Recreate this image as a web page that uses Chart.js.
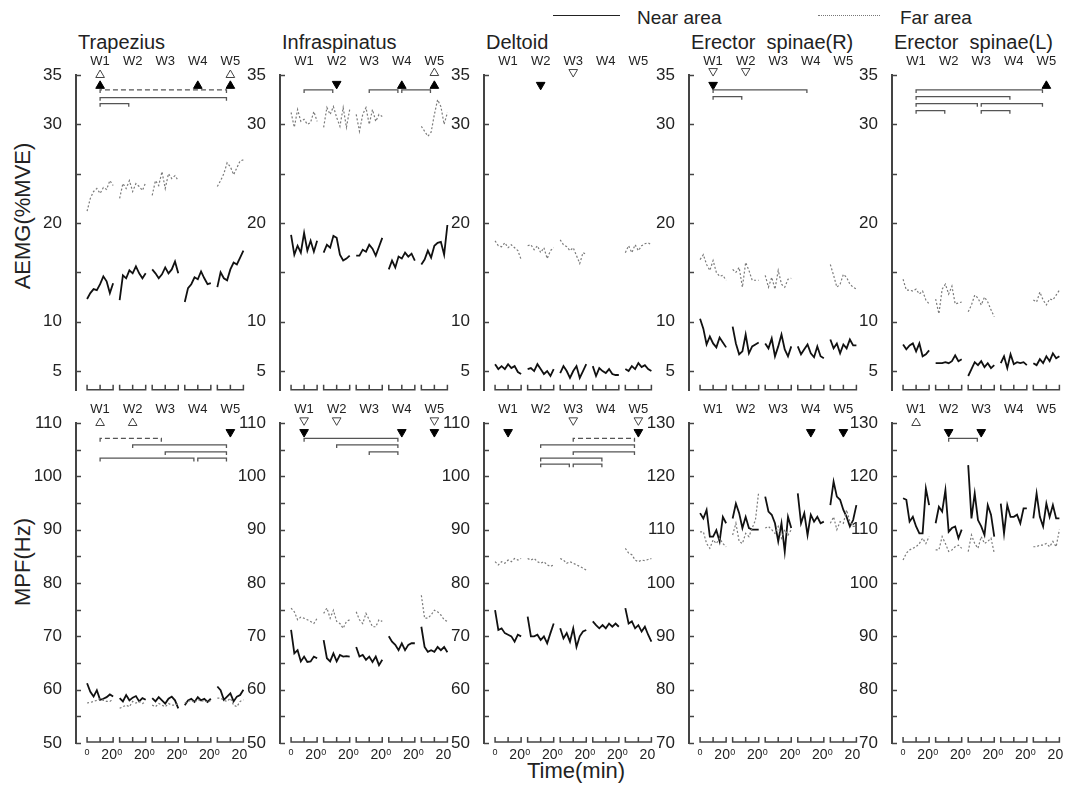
<!DOCTYPE html>
<html lang="en">
<head>
  <meta charset="UTF-8" />
  <title>AEMG and MPF by week</title>
  <script src="https://cdn.jsdelivr.net/npm/chart.js"></script>
  <style>
    body { margin: 0; background: #fff; font-family: "Liberation Sans", Arial, sans-serif; color: #222; }
    #fig { position: relative; width: 1067px; height: 785px; overflow: hidden; }
    .txt { position: absolute; white-space: pre; line-height: 1; }
    .panel { position: absolute; }
    .ytitle { position: absolute; font-size: 22px; transform: translate(-50%, -50%) rotate(-90deg); white-space: nowrap; }
    .leg-line { position: absolute; height: 0; }
  </style>
</head>
<body>
<div id="fig">
  <div class="leg-line" style="left:553px; top:15px; width:67px; border-top:1.5px solid #222;"></div>
  <div class="txt" style="left:637px; top:8px; font-size:19px;">Near area</div>
  <div class="leg-line" style="left:818px; top:15px; width:62px; border-top:1px dotted #777;"></div>
  <div class="txt" style="left:900px; top:8px; font-size:19px;">Far area</div>

  <div class="ytitle" style="left:23px; top:216px;">AEMG(%MVE)</div>
  <div class="ytitle" style="left:23px; top:562px;">MPF(Hz)</div>
  <div class="txt" style="left:576px; top:760px; font-size:22px; transform:translateX(-50%);">Time(min)</div>
</div>

<script>
// time points inside each 20-min session, and the weeks
const minutes = [0, 2.5, 5, 7.5, 10, 12.5, 15, 17.5, 20];
const weekLabels = ['W1', 'W2', 'W3', 'W4', 'W5'];
const muscles = ['Trapezius', 'Infraspinatus', 'Deltoid', 'Erector  spinae(R)', 'Erector  spinae(L)'];

// y axis ticks
const aemgTicks = [5, 10, 15, 20, 25, 30, 35];
const aemgLabeled = [5, 10, 20, 30, 35];
const mpfTicksA = [50, 55, 60, 65, 70, 75, 80, 85, 90, 95, 100, 105, 110];
const mpfTicksB = [70, 75, 80, 85, 90, 95, 100, 105, 110, 115, 120, 125, 130];

// ---- AEMG (%MVE), one row per week ----
const aemgTrapNear = [
  [12.3, 12.9, 13.3, 13.2, 13.8, 14.6, 14.1, 12.9, 13.9],
  [12.2, 14.7, 14.4, 15.2, 14.9, 15.6, 14.9, 14.4, 14.9],
  [15.3, 14.9, 14.4, 14.8, 15.5, 14.9, 15.3, 16.1, 14.9],
  [12.0, 13.4, 13.8, 14.5, 14.3, 15.1, 14.4, 13.8, 13.9],
  [13.5, 15.0, 14.4, 14.2, 15.3, 16.0, 15.8, 16.5, 17.2]
];
const aemgTrapFar = [
  [21.2, 22.5, 23.2, 23.5, 23.0, 23.6, 23.4, 24.3, 23.8],
  [22.5, 24.0, 23.5, 24.3, 23.2, 24.0, 23.7, 23.3, 24.1],
  [22.8, 24.3, 23.8, 25.2, 23.5, 25.0, 24.5, 24.8, 24.3],
  null,
  [23.7, 24.3, 25.0, 26.1, 25.7, 24.9, 25.6, 26.3, 26.4]
];
const aemgInfraNear = [
  [18.8, 16.8, 17.7, 17.0, 19.0, 17.2, 18.2, 17.1, 18.2],
  [17.0, 17.8, 17.5, 18.7, 18.5, 16.8, 16.2, 16.4, 16.7],
  [16.7, 16.7, 17.3, 17.1, 17.8, 17.4, 16.7, 17.6, 18.5],
  [15.3, 16.2, 15.5, 16.6, 16.4, 17.0, 16.6, 16.9, 16.2],
  [15.8, 16.3, 17.2, 16.5, 17.7, 18.0, 18.1, 16.8, 19.8]
];
const aemgInfraFar = [
  [31.2, 29.7, 31.5, 30.3, 30.5, 30.0, 30.2, 31.3, 30.3],
  [29.7, 31.7, 31.0, 31.8, 30.7, 29.8, 31.7, 29.7, 31.5],
  [31.0, 29.3, 31.0, 31.7, 30.0, 31.5, 30.3, 31.0, 30.8],
  null,
  [29.8, 29.3, 28.8, 29.2, 31.0, 32.5, 31.8, 30.0, 31.2]
];
const aemgDeltNear = [
  [5.7, 5.2, 5.5, 5.2, 5.7, 5.3, 5.5, 4.9, 4.7],
  [5.2, 5.3, 5.0, 5.7, 5.2, 4.7, 5.0, 4.5, 5.2],
  [4.8, 5.5, 5.0, 4.3, 5.0, 5.5, 4.3, 5.0, 5.7],
  [5.5, 4.5, 5.3, 5.0, 4.8, 5.2, 4.7, 4.6, 4.6],
  [5.2, 5.0, 5.5, 5.2, 5.8, 5.4, 5.6, 5.2, 5.0]
];
const aemgDeltFar = [
  [18.2, 17.7, 17.6, 18.0, 17.5, 17.8, 17.5, 17.2, 16.3],
  [17.7, 17.8, 17.3, 17.7, 17.0, 17.5, 16.4, 17.2, 17.5],
  [18.3, 17.8, 17.6, 17.2, 17.5, 16.7, 15.9, 17.0, 16.8],
  null,
  [17.0, 17.7, 17.0, 17.8, 17.2, 17.7, 17.9, 18.0, 17.8]
];
const aemgEsrNear = [
  [10.3, 9.3, 7.7, 8.5, 7.8, 7.4, 8.4, 7.9, 7.4],
  [9.5, 7.8, 6.7, 7.0, 8.7, 6.8, 7.5, 7.7, 7.9],
  [7.8, 7.3, 8.3, 6.5, 7.5, 8.7, 7.2, 6.5, 7.5],
  [7.5, 6.7, 7.2, 7.7, 6.8, 6.4, 7.5, 6.5, 6.3],
  [8.2, 7.3, 7.8, 6.8, 7.7, 7.3, 8.2, 7.6, 7.6]
];
const aemgEsrFar = [
  [16.3, 16.8, 15.8, 15.2, 16.2, 15.0, 14.6, 14.7, 14.2],
  [15.3, 15.0, 15.5, 13.5, 16.0, 15.2, 14.2, 14.2, 14.2],
  [14.7, 13.5, 14.5, 13.3, 15.2, 13.8, 13.5, 14.3, 14.4],
  null,
  [15.8, 14.7, 13.5, 13.8, 14.8, 14.5, 13.8, 13.5, 13.3]
];
const aemgEslNear = [
  [7.7, 7.2, 7.6, 7.8, 7.0, 7.8, 6.5, 6.7, 7.1],
  [5.8, 5.8, 5.8, 5.9, 5.8, 6.0, 6.6, 6.0, 6.2],
  [4.5, 5.2, 5.9, 5.6, 6.0, 5.4, 5.8, 5.3, 5.6],
  [5.8, 6.5, 5.3, 6.7, 5.7, 5.9, 5.8, 5.9, 5.6],
  [5.8, 5.6, 6.2, 5.8, 6.5, 6.0, 6.8, 6.3, 6.5]
];
const aemgEslFar = [
  [14.3, 13.2, 13.2, 13.1, 13.3, 12.8, 13.1, 12.2, 11.8],
  [12.3, 10.8, 13.3, 13.8, 12.8, 13.6, 11.8, 11.9, 12.0],
  [11.0, 11.7, 12.7, 12.4, 11.7, 12.5, 12.0, 11.2, 10.5],
  null,
  [12.2, 12.0, 13.0, 12.2, 11.7, 12.3, 12.2, 12.7, 13.2]
];

// ---- MPF (Hz) ----
const mpfTrapNear = [
  [61.2, 59.6, 58.7, 59.9, 58.1, 58.3, 58.6, 59.1, 58.7],
  [58.4, 57.8, 59.0, 58.0, 58.5, 58.8, 57.8, 58.4, 58.1],
  [58.4, 57.8, 58.6, 58.0, 57.4, 58.3, 58.7, 58.0, 56.5],
  [57.1, 58.0, 58.3, 57.7, 58.6, 58.0, 58.3, 57.7, 58.3],
  [60.6, 59.9, 58.1, 58.7, 59.3, 57.8, 58.7, 59.0, 60.0]
];
const mpfTrapFar = [
  [57.5, 57.6, 57.8, 58.0, 58.3, 58.0, 57.8, 57.8, 58.2],
  [56.5, 56.8, 57.1, 56.8, 57.8, 57.5, 57.8, 57.4, 57.7],
  [57.1, 56.8, 57.4, 57.1, 56.8, 57.4, 57.1, 57.1, 57.4],
  [57.5, 57.8, 58.0, 57.6, 58.2, 57.8, 58.0, 57.6, 58.0],
  [58.4, 58.4, 58.0, 57.8, 58.4, 57.1, 56.8, 57.8, 58.1]
];
const mpfInfraNear = [
  [71.2, 66.8, 67.4, 65.3, 66.2, 65.2, 65.3, 66.2, 65.9],
  [69.3, 65.9, 65.3, 66.8, 65.3, 66.5, 66.2, 66.3, 66.2],
  [68.0, 66.2, 66.5, 65.6, 66.2, 65.2, 66.2, 64.6, 65.6],
  [70.0, 69.0, 68.4, 67.4, 68.7, 67.4, 68.4, 68.7, 68.7],
  [71.8, 68.0, 67.1, 67.4, 67.1, 68.0, 67.4, 68.0, 67.0]
];
const mpfInfraFar = [
  [75.3, 74.6, 73.1, 73.6, 73.4, 73.1, 72.8, 72.4, 73.4],
  [74.3, 75.3, 73.4, 74.9, 72.8, 72.4, 71.5, 72.8, 73.1],
  [74.6, 73.1, 72.4, 74.3, 73.1, 71.8, 71.8, 73.1, 72.8],
  null,
  [77.7, 73.4, 73.4, 74.0, 74.9, 74.6, 74.0, 73.1, 72.8]
];
const mpfDeltNear = [
  [74.9, 71.2, 71.5, 70.6, 70.3, 70.0, 69.0, 70.3, 70.0],
  [73.7, 70.0, 70.0, 70.3, 69.3, 70.0, 68.7, 70.6, 72.4],
  [71.5, 69.6, 70.6, 69.0, 71.5, 68.0, 70.0, 70.9, 71.2],
  [72.8, 72.1, 71.5, 72.1, 71.5, 72.4, 71.8, 72.4, 71.8],
  [75.3, 72.4, 72.8, 71.5, 72.1, 70.9, 71.8, 70.3, 69.0]
];
const mpfDeltFar = [
  [84.0, 83.4, 84.0, 83.7, 84.3, 84.0, 84.6, 84.3, 84.6],
  [84.6, 84.3, 84.6, 84.0, 83.7, 84.0, 83.4, 83.1, 83.4],
  [84.6, 84.3, 83.7, 84.0, 83.7, 83.4, 83.1, 82.8, 82.4],
  null,
  [86.5, 85.6, 85.3, 84.3, 84.0, 84.3, 84.2, 84.4, 84.6]
];
const mpfEsrNear = [
  [113.1, 112.1, 113.7, 108.7, 108.7, 109.9, 107.8, 112.4, 111.2],
  [112.1, 114.9, 113.1, 110.3, 112.4, 110.3, 110.0, 110.0, 110.0],
  [116.2, 113.4, 112.8, 111.2, 107.8, 111.2, 105.9, 112.4, 110.3],
  [116.8, 111.2, 113.1, 109.0, 112.8, 111.5, 112.4, 111.2, 111.5],
  [114.6, 119.0, 116.2, 115.6, 113.7, 112.4, 110.6, 111.8, 114.6]
];
const mpfEsrFar = [
  [109.6, 109.6, 107.4, 106.5, 108.1, 107.4, 108.4, 107.4, 106.8],
  [109.0, 111.2, 107.8, 107.4, 109.3, 108.7, 110.3, 111.8, 117.1],
  [110.3, 110.6, 110.0, 109.3, 110.6, 108.4, 110.0, 109.0, 110.0],
  null,
  [111.2, 112.4, 110.0, 111.5, 111.2, 113.7, 111.5, 110.6, 110.6]
];
const mpfEslNear = [
  [115.9, 115.6, 111.5, 112.4, 110.6, 109.3, 109.3, 117.7, 114.6],
  [111.2, 114.3, 113.4, 117.4, 109.6, 110.3, 110.6, 108.4, 110.0],
  [122.1, 112.1, 116.8, 111.8, 110.6, 109.0, 114.6, 112.8, 108.7],
  [114.9, 109.3, 114.6, 112.4, 112.4, 112.8, 111.2, 114.0, 114.0],
  [112.1, 116.8, 112.4, 110.6, 114.9, 112.4, 114.6, 112.1, 112.1]
];
const mpfEslFar = [
  [104.3, 105.6, 106.2, 106.5, 106.8, 107.4, 108.4, 107.4, 108.7],
  [106.2, 106.2, 108.7, 107.4, 105.9, 106.2, 106.8, 107.1, 106.5],
  [105.9, 109.0, 107.4, 106.5, 108.7, 107.4, 107.8, 108.4, 105.6],
  null,
  [106.8, 106.8, 107.1, 107.1, 107.4, 106.8, 107.8, 106.8, 110.0]
];

// significance marks: [week, value, kind]
const aemgTrapMarks = [[1, 35, 'upOpen'], [1, 33.9, 'up'], [4, 33.9, 'up'], [5, 35, 'upOpen'], [5, 33.9, 'up']];
const aemgInfraMarks = [[2, 34.1, 'down'], [4, 33.9, 'up'], [5, 35.2, 'upOpen'], [5, 33.9, 'up']];
const aemgDeltMarks = [[2, 34.0, 'down'], [3, 35.3, 'downOpen']];
const aemgEsrMarks = [[1, 35.4, 'downOpen'], [2, 35.4, 'downOpen'], [1, 34.0, 'down']];
const aemgEslMarks = [[5, 33.9, 'up']];
const mpfTrapMarks = [[1, 110, 'upOpen'], [2, 110, 'upOpen'], [5, 108.3, 'down']];
const mpfInfraMarks = [[1, 110.5, 'downOpen'], [2, 110.5, 'downOpen'], [5, 110.5, 'downOpen'], [1, 108.3, 'down'], [4, 108.3, 'down'], [5, 108.3, 'down']];
const mpfDeltMarks = [[1, 108.3, 'down'], [3, 110.5, 'downOpen'], [5, 110.5, 'downOpen'], [5, 108.3, 'down']];
const mpfEsrMarks = [[4, 128.3, 'down'], [5, 128.3, 'down']];
const mpfEslMarks = [[1, 130, 'upOpen'], [2, 128.3, 'down'], [3, 128.3, 'down']];

// comparison brackets: [fromWeek, toWeek, level, dashed]
const aemgTrapBrackets = [[1, 5, 33.5, 1], [1, 5, 32.7, 0], [1, 2, 32.1, 0]];
const aemgInfraBrackets = [[1, 2, 33.5, 0], [3, 4, 33.5, 0], [4, 5, 33.5, 0]];
const aemgDeltBrackets = [];
const aemgEsrBrackets = [[1, 4, 33.5, 0], [1, 2, 32.8, 0]];
const aemgEslBrackets = [[1, 5, 33.5, 0], [1, 4, 32.8, 0], [1, 3, 32.1, 0], [3, 5, 32.1, 0], [1, 2, 31.4, 0], [3, 4, 31.4, 0]];
const mpfTrapBrackets = [[1, 3, 107.1, 1], [2, 5, 105.9, 0], [3, 5, 104.6, 0], [1, 4, 103.4, 0], [4, 5, 103.4, 0]];
const mpfInfraBrackets = [[1, 4, 107.1, 0], [2, 4, 105.9, 0], [3, 4, 104.6, 0]];
const mpfDeltBrackets = [[3, 5, 107.1, 1], [2, 5, 105.9, 0], [3, 5, 104.6, 0], [2, 4, 103.4, 0], [2, 3, 102.3, 0], [3, 4, 102.3, 0]];
const mpfEsrBrackets = [];
const mpfEslBrackets = [[2, 3, 127.1, 0]];

const panels = [
  { row: 0, col: 0, near: aemgTrapNear, far: aemgTrapFar, marks: aemgTrapMarks, brackets: aemgTrapBrackets },
  { row: 0, col: 1, near: aemgInfraNear, far: aemgInfraFar, marks: aemgInfraMarks, brackets: aemgInfraBrackets },
  { row: 0, col: 2, near: aemgDeltNear, far: aemgDeltFar, marks: aemgDeltMarks, brackets: aemgDeltBrackets },
  { row: 0, col: 3, near: aemgEsrNear, far: aemgEsrFar, marks: aemgEsrMarks, brackets: aemgEsrBrackets },
  { row: 0, col: 4, near: aemgEslNear, far: aemgEslFar, marks: aemgEslMarks, brackets: aemgEslBrackets },
  { row: 1, col: 0, near: mpfTrapNear, far: mpfTrapFar, marks: mpfTrapMarks, brackets: mpfTrapBrackets },
  { row: 1, col: 1, near: mpfInfraNear, far: mpfInfraFar, marks: mpfInfraMarks, brackets: mpfInfraBrackets },
  { row: 1, col: 2, near: mpfDeltNear, far: mpfDeltFar, marks: mpfDeltMarks, brackets: mpfDeltBrackets },
  { row: 1, col: 3, near: mpfEsrNear, far: mpfEsrFar, marks: mpfEsrMarks, brackets: mpfEsrBrackets },
  { row: 1, col: 4, near: mpfEslNear, far: mpfEslFar, marks: mpfEslMarks, brackets: mpfEslBrackets }
];

// page geometry
const WEEK = 25;           // one session (20 min) + gap on the shared x axis
const axisLeft = [76, 280, 484, 689, 892];
const rowTop = [75, 423];
const plotH = 320, plotW = 170, yAxisW = 44, padRight = 6;
const padTop = [45, 25], padBottom = [12, 30];
const FONT = '"Liberation Sans", Arial, sans-serif';

Chart.defaults.font.family = FONT;
Chart.defaults.color = '#222';

function seriesPoints(weeks) {
  const pts = [];
  weeks.forEach((vals, k) => {
    if (!vals) return;
    vals.forEach((v, i) => pts.push({ x: k * WEEK + minutes[i], y: v }));
    pts.push({ x: k * WEEK + 22, y: null });
  });
  return pts;
}

const weekCenter = w => (w - 1) * WEEK + 10;

// session brackets along the bottom, week labels on top, time labels
const weekAxis = {
  id: 'weekAxis',
  afterDraw(chart, args, opts) {
    const { ctx, chartArea, scales: { x, y } } = chart;
    ctx.save();
    ctx.strokeStyle = '#444';
    ctx.lineWidth = 1.5;
    // inward y ticks
    y.ticks.forEach(t => {
      const py = Math.round(y.getPixelForValue(t.value)) + 0.5;
      ctx.beginPath();
      ctx.moveTo(chartArea.left, py);
      ctx.lineTo(chartArea.left + 5, py);
      ctx.stroke();
    });
    const by = chartArea.bottom - 1;
    ctx.fillStyle = '#222';
    weekLabels.forEach((w, k) => {
      const x0 = x.getPixelForValue(k * WEEK);
      const x1 = x.getPixelForValue(k * WEEK + 10);
      const x2 = x.getPixelForValue(k * WEEK + 20);
      ctx.beginPath();
      ctx.moveTo(x0, by - 5); ctx.lineTo(x0, by); ctx.lineTo(x2, by); ctx.lineTo(x2, by - 5);
      ctx.moveTo(x1, by); ctx.lineTo(x1, by - 5);
      ctx.stroke();
      ctx.font = '13px ' + FONT;
      ctx.textAlign = 'center';
      ctx.textBaseline = 'middle';
      ctx.fillText(w, x1, chartArea.top - 14);
      if (opts.timeLabels) {
        ctx.textBaseline = 'top';
        ctx.font = '9px ' + FONT;
        ctx.fillText('0', x0, by + 6);
        ctx.font = '14px ' + FONT;
        ctx.fillText('20', x2 - 4, by + 6);
      }
    });
    ctx.restore();
  }
};

const fig = document.getElementById('fig');

panels.forEach(p => {
  const r = p.row, c = p.col;
  if (r === 0) {
    const t = document.createElement('div');
    t.className = 'txt';
    t.style.cssText = `left:${axisLeft[c] + 2}px; top:32px; font-size:20px;`;
    t.textContent = muscles[c];
    fig.appendChild(t);
  }
  const ticks = r === 0 ? aemgTicks : (c < 3 ? mpfTicksA : mpfTicksB);
  const yMin = r === 0 ? 3 : ticks[0];
  const yMax = ticks[ticks.length - 1];
  const drop = (yMax - yMin) * 0.01;

  const wrap = document.createElement('div');
  wrap.className = 'panel';
  const W = yAxisW + plotW + padRight, H = padTop[r] + plotH + padBottom[r];
  wrap.style.cssText = `left:${axisLeft[c] - yAxisW}px; top:${rowTop[r] - padTop[r]}px; width:${W}px; height:${H}px;`;
  const cv = document.createElement('canvas');
  cv.width = W; cv.height = H;
  wrap.appendChild(cv);
  fig.appendChild(wrap);

  const datasets = [
    { data: seriesPoints(p.far), borderColor: '#7a7a7a', borderWidth: 1.2, borderDash: [2, 2], pointRadius: 0, spanGaps: false },
    { data: seriesPoints(p.near), borderColor: '#111', borderWidth: 1.8, pointRadius: 0, spanGaps: false }
  ];
  p.brackets.forEach(([a, b, lvl, dashed]) => {
    const xa = weekCenter(a), xb = weekCenter(b) - 3;
    datasets.push({
      data: [{ x: xa, y: lvl - drop }, { x: xa, y: lvl }, { x: xb, y: lvl }, { x: xb, y: lvl - drop }],
      borderColor: '#555', borderWidth: 1.3, borderDash: dashed ? [5, 3] : [], pointRadius: 0
    });
  });
  if (p.marks.length) {
    datasets.push({
      data: p.marks.map(([w, v]) => ({ x: weekCenter(w), y: v })),
      showLine: false,
      clip: false,
      pointStyle: 'triangle',
      pointRadius: 5,
      pointRotation: p.marks.map(m => m[2].startsWith('down') ? 180 : 0),
      pointBackgroundColor: p.marks.map(m => m[2].endsWith('Open') ? '#fff' : '#000'),
      pointBorderColor: p.marks.map(m => m[2].endsWith('Open') ? '#444' : '#000'),
      pointBorderWidth: 1
    });
  }

  new Chart(cv, {
    type: 'line',
    data: { datasets },
    plugins: [weekAxis],
    options: {
      responsive: false,
      animation: false,
      devicePixelRatio: 1,
      events: [],
      layout: { padding: { top: padTop[r], bottom: padBottom[r], left: 0, right: padRight } },
      plugins: { legend: { display: false }, tooltip: { enabled: false }, weekAxis: { timeLabels: r === 1 } },
      scales: {
        x: { type: 'linear', min: -8.5, max: 122, display: false },
        y: {
          min: yMin, max: yMax,
          afterFit: s => { s.width = yAxisW; },
          afterBuildTicks: s => { s.ticks = ticks.map(v => ({ value: v })); },
          grid: { display: false },
          border: { display: true, color: '#444', width: 2 },
          ticks: {
            padding: 6,
            font: { size: 17 },
            color: '#222',
            callback: v => (r === 0 ? (aemgLabeled.includes(v) ? v : '') : (v % 10 === 0 ? v : ''))
          }
        }
      }
    }
  });
});
</script>
</body>
</html>
